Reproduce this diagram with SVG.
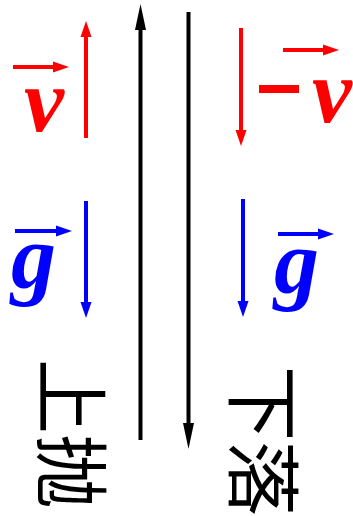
<svg xmlns="http://www.w3.org/2000/svg" width="353" height="516" viewBox="0 0 353 516">
<style>
.r{stroke:#ff0000;stroke-width:4;fill:none}
.b{stroke:#0000ff;stroke-width:4;fill:none}
.k{stroke:#000;stroke-width:4;fill:none}
.sym{font-family:"Liberation Serif","Times New Roman",serif;font-weight:bold;font-style:italic}
.cjk{font-family:"Noto Sans CJK SC","Noto Sans CJK JP",sans-serif;font-size:75px;fill:#000}
</style>
<defs>
<marker id="hr" viewBox="0 -6 16 12" refX="0" refY="0" markerWidth="16" markerHeight="12" markerUnits="userSpaceOnUse" orient="auto"><path d="M0,-5.5 L16,0 L0,5.5 z" fill="#ff0000"/></marker>
<marker id="hb" viewBox="0 -6 16 12" refX="0" refY="0" markerWidth="16" markerHeight="12" markerUnits="userSpaceOnUse" orient="auto"><path d="M0,-5.5 L16,0 L0,5.5 z" fill="#0000ff"/></marker>
<marker id="hk" viewBox="0 -6 26 12" refX="0" refY="0" markerWidth="26" markerHeight="12" markerUnits="userSpaceOnUse" orient="auto"><path d="M0,-5.5 L26,0 L0,5.5 z" fill="#000"/></marker>
</defs>
<g id="connectors">
<line class="k" x1="140.5" y1="440" x2="140.5" y2="30" marker-end="url(#hk)"/>
<line class="k" x1="188.5" y1="12" x2="188.5" y2="423" marker-end="url(#hk)"/>
<line class="r" x1="86" y1="138" x2="86" y2="37" marker-end="url(#hr)"/>
<line class="r" x1="241" y1="28" x2="241" y2="130" marker-end="url(#hr)"/>
<line class="b" x1="86" y1="201" x2="86" y2="302" marker-end="url(#hb)"/>
<line class="b" x1="243" y1="199" x2="243" y2="301" marker-end="url(#hb)"/>
</g>
<g id="v-left">
<line class="r" x1="13" y1="67" x2="53" y2="67" marker-end="url(#hr)"/>
<text class="sym" x="24" y="131" fill="#ff0000" font-size="90">v</text>
</g>
<g id="v-right">
<line class="r" x1="283" y1="50" x2="323" y2="50" marker-end="url(#hr)"/>
<rect x="259" y="85" width="40" height="8" fill="#ff0000"/>
<text class="sym" x="312" y="122" fill="#ff0000" font-size="90">v</text>
</g>
<g id="g-left">
<line class="b" x1="15" y1="231" x2="56" y2="231" marker-end="url(#hb)"/>
<text class="sym" x="11" y="288" fill="#0000ff" font-size="90">g</text>
</g>
<g id="g-right">
<line class="b" x1="278" y1="234" x2="318" y2="234" marker-end="url(#hb)"/>
<text class="sym" x="274" y="293" fill="#0000ff" font-size="90">g</text>
</g>
<g id="label-up">
<text class="cjk" transform="translate(43,359) rotate(90)">上抛</text>
</g>
<g id="label-down">
<text class="cjk" transform="translate(235,366) rotate(90)">下落</text>
</g>
</svg>
